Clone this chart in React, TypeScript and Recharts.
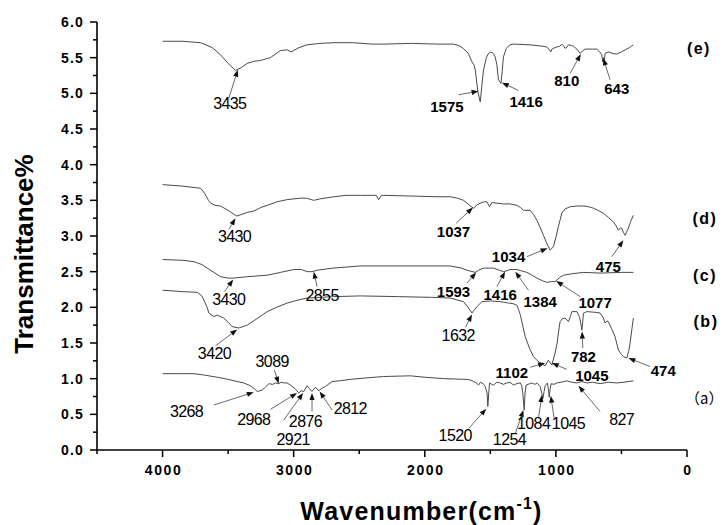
import React from 'react';
import { LineChart, Line, XAxis, YAxis, ReferenceLine, ReferenceDot } from 'recharts';

type Pt = [number, number];

// Spectrum (e)
const specE: Pt[] = [
  [4000, 5.73], [3850, 5.73], [3710, 5.71], [3620, 5.64], [3558, 5.54], [3500, 5.42], [3444, 5.32],
  [3400, 5.36], [3355, 5.42], [3300, 5.45], [3253, 5.46], [3200, 5.49], [3177, 5.5], [3140, 5.55],
  [3101, 5.6], [3050, 5.61], [3020, 5.58], [3000, 5.6], [2960, 5.64], [2898, 5.68], [2800, 5.7],
  [2697, 5.71], [2550, 5.71], [2400, 5.69], [2316, 5.69], [2100, 5.7], [1900, 5.69], [1783, 5.69],
  [1740, 5.67], [1707, 5.63], [1668, 5.56], [1640, 5.44], [1625, 5.4], [1615, 5.33], [1595, 5.02],
  [1577, 4.88], [1565, 5.1], [1552, 5.33], [1530, 5.5], [1514, 5.56], [1495, 5.58], [1478, 5.56],
  [1463, 5.51], [1450, 5.4], [1438, 5.19], [1419, 5.14], [1410, 5.3], [1400, 5.51], [1379, 5.63],
  [1350, 5.68], [1323, 5.69], [1200, 5.68], [1100, 5.66], [1069, 5.65], [1050, 5.61], [1039, 5.58],
  [1030, 5.62], [1019, 5.63], [993, 5.65], [970, 5.66], [955, 5.69], [940, 5.66], [930, 5.63],
  [915, 5.65], [904, 5.68], [880, 5.67], [866, 5.66], [840, 5.62], [815, 5.56], [800, 5.59],
  [777, 5.62], [720, 5.62], [688, 5.62], [665, 5.58], [650, 5.54], [643, 5.44], [638, 5.5],
  [632, 5.44], [625, 5.56], [600, 5.58], [570, 5.56], [536, 5.55], [500, 5.58], [472, 5.61],
  [440, 5.64], [409, 5.68],
];

// Spectrum (d)
const specD: Pt[] = [
  [4000, 3.72], [3850, 3.7], [3760, 3.68], [3710, 3.67], [3680, 3.6], [3650, 3.5], [3634, 3.46],
  [3600, 3.43], [3558, 3.42], [3500, 3.36], [3436, 3.28], [3400, 3.3], [3355, 3.33], [3304, 3.35],
  [3250, 3.4], [3200, 3.43], [3126, 3.48], [3050, 3.51], [2949, 3.53], [2900, 3.53], [2847, 3.5],
  [2800, 3.52], [2695, 3.55], [2600, 3.57], [2491, 3.57], [2400, 3.57], [2370, 3.57], [2352, 3.51],
  [2330, 3.57], [2314, 3.57], [2100, 3.56], [1900, 3.55], [1806, 3.55], [1750, 3.53], [1704, 3.5],
  [1670, 3.45], [1653, 3.42], [1628, 3.39], [1600, 3.44], [1577, 3.46], [1545, 3.48], [1526, 3.48],
  [1506, 3.41], [1488, 3.47], [1450, 3.46], [1400, 3.45], [1350, 3.45], [1298, 3.43], [1270, 3.4],
  [1247, 3.36], [1196, 3.36], [1170, 3.3], [1145, 3.22], [1120, 3.12], [1095, 3.01], [1070, 2.9],
  [1044, 2.8], [1019, 2.85], [1000, 2.98], [981, 3.13], [955, 3.32], [930, 3.38], [891, 3.41],
  [840, 3.42], [790, 3.42], [750, 3.41], [714, 3.39], [680, 3.36], [638, 3.32], [600, 3.26],
  [562, 3.2], [540, 3.14], [523, 3.08], [510, 3.11], [498, 3.11], [485, 3.05], [472, 3.01],
  [460, 3.06], [447, 3.11], [430, 3.2], [409, 3.29],
];

// Spectrum (c)
const specC: Pt[] = [
  [4000, 2.67], [3850, 2.66], [3761, 2.64], [3700, 2.6], [3660, 2.55], [3600, 2.48], [3558, 2.43],
  [3500, 2.41], [3457, 2.41], [3350, 2.43], [3202, 2.45], [3100, 2.49], [3000, 2.53], [2940, 2.53],
  [2898, 2.5], [2860, 2.5], [2821, 2.52], [2700, 2.55], [2491, 2.58], [2300, 2.58], [2000, 2.58],
  [1806, 2.58], [1720, 2.55], [1678, 2.52], [1615, 2.49], [1590, 2.52], [1552, 2.55], [1476, 2.55],
  [1430, 2.52], [1400, 2.5], [1380, 2.51], [1349, 2.53], [1298, 2.53], [1260, 2.51], [1221, 2.49],
  [1180, 2.45], [1145, 2.41], [1100, 2.37], [1069, 2.35], [1040, 2.36], [1006, 2.36], [970, 2.42],
  [942, 2.45], [880, 2.47], [790, 2.49], [663, 2.48], [500, 2.49], [409, 2.49],
];

// Spectrum (b)
const specB: Pt[] = [
  [4000, 2.24], [3850, 2.22], [3736, 2.21], [3700, 2.16], [3685, 2.1], [3660, 2.0], [3647, 1.92],
  [3609, 1.87], [3583, 1.89], [3533, 1.85], [3500, 1.79], [3469, 1.73], [3419, 1.71], [3355, 1.75],
  [3280, 1.84], [3202, 1.94], [3130, 2.0], [3050, 2.06], [2970, 2.1], [2898, 2.13], [2800, 2.14],
  [2695, 2.15], [2491, 2.16], [2200, 2.15], [1950, 2.14], [1806, 2.13], [1704, 2.08], [1666, 1.99],
  [1640, 1.92], [1620, 1.97], [1602, 2.01], [1564, 2.08], [1500, 2.09], [1425, 2.08], [1360, 2.06],
  [1323, 2.05], [1298, 2.03], [1285, 1.97], [1272, 1.9], [1250, 1.72], [1234, 1.59], [1200, 1.42],
  [1171, 1.31], [1140, 1.25], [1120, 1.22], [1082, 1.18], [1057, 1.26], [1031, 1.19], [1006, 1.36],
  [990, 1.5], [981, 1.64], [968, 1.8], [950, 1.84], [930, 1.85], [904, 1.8], [890, 1.87],
  [878, 1.94], [840, 1.94], [821, 1.87], [810, 1.78], [802, 1.68], [795, 1.8], [790, 1.92],
  [764, 1.94], [700, 1.93], [663, 1.92], [640, 1.86], [625, 1.78], [610, 1.81], [600, 1.8],
  [575, 1.7], [549, 1.59], [523, 1.4], [500, 1.34], [485, 1.31], [459, 1.29], [445, 1.38],
  [434, 1.5], [420, 1.7], [409, 1.85],
];

// Spectrum (a)
const specA: Pt[] = [
  [4000, 1.07], [3850, 1.07], [3761, 1.07], [3680, 1.05], [3583, 1.02], [3500, 0.99], [3431, 0.96],
  [3380, 0.94], [3330, 0.9], [3300, 0.86], [3278, 0.82], [3240, 0.84], [3215, 0.88], [3190, 0.93],
  [3160, 0.92], [3139, 0.94], [3114, 0.93], [3095, 0.95], [3076, 0.94], [3050, 0.94], [3025, 0.91],
  [2990, 0.86], [2961, 0.8], [2943, 0.83], [2923, 0.82], [2898, 0.9], [2880, 0.86], [2860, 0.82],
  [2834, 0.88], [2809, 0.83], [2780, 0.87], [2758, 0.89], [2707, 0.96], [2650, 0.97], [2568, 0.99],
  [2450, 1.01], [2314, 1.03], [2110, 1.04], [2000, 1.02], [1850, 1.0], [1678, 0.99], [1650, 0.98],
  [1628, 0.96], [1605, 0.94], [1590, 0.91], [1575, 0.95], [1564, 0.94], [1550, 0.92], [1539, 0.89],
  [1525, 0.8], [1519, 0.61], [1512, 0.8], [1506, 0.94], [1490, 0.92], [1476, 0.91], [1450, 0.95],
  [1425, 0.94], [1400, 0.92], [1374, 0.94], [1350, 0.95], [1323, 0.91], [1300, 0.93], [1272, 0.94],
  [1260, 0.9], [1252, 0.79], [1242, 0.56], [1235, 0.8], [1227, 0.91], [1200, 0.93], [1183, 0.94],
  [1160, 0.92], [1145, 0.94], [1120, 0.89], [1108, 0.8], [1099, 0.72], [1090, 0.82], [1082, 0.9],
  [1064, 0.94], [1057, 0.85], [1051, 0.74], [1044, 0.85], [1036, 0.93], [1015, 0.92], [993, 0.94],
  [960, 0.95], [917, 0.97], [880, 0.95], [840, 0.94], [800, 0.96], [764, 0.94], [720, 0.95],
  [663, 0.93], [600, 0.95], [536, 0.94], [480, 0.95], [409, 0.97],
];

// Peak labels [text, wavenumber, transmittance] (label centre)
const boldPeakLabels: [string, number, number][] = [
  ['1575', 1831, 4.82], ['1416', 1227, 4.88], ['810', 917, 5.18], ['643', 536, 5.07],
  ['1037', 1781, 3.06], ['1034', 1361, 2.71], ['475', 600, 2.57],
  ['1593', 1781, 2.22], ['1416', 1425, 2.18], ['1384', 1120, 2.08], ['1077', 701, 2.06],
  ['1102', 1336, 1.08], ['1045', 726, 1.05], ['782', 790, 1.31], ['474', 181, 1.12],
];
const plainPeakLabels: [string, number, number][] = [
  ['3435', 3487, 4.86], ['3430', 3451, 2.99], ['3430', 3495, 2.11], ['2855', 2783, 2.17],
  ['3420', 3604, 1.36], ['1632', 1745, 1.61],
  ['3089', 3164, 1.24], ['3268', 3817, 0.54], ['2968', 3304, 0.43], ['2921', 3004, 0.15],
  ['2876', 2910, 0.41], ['2812', 2568, 0.58], ['1520', 1768, 0.2], ['1254', 1354, 0.15],
  ['1084', 1170, 0.37], ['1045', 904, 0.37], ['827', 498, 0.43],
];
// Arrows [fromW, fromV, toW, toV]
const peakArrows: [number, number, number, number][] = [
  [3495, 4.93, 3426, 5.33], [1742, 4.98, 1590, 5.03], [1285, 5.04, 1412, 5.15], [891, 5.28, 810, 5.55], [587, 5.19, 638, 5.49],
  [3495, 3.09, 3444, 3.25], [1760, 3.18, 1633, 3.4], [1221, 2.71, 1064, 2.83], [574, 2.71, 485, 2.94],
  [3528, 2.22, 3461, 2.39], [2821, 2.29, 2847, 2.5], [1678, 2.34, 1608, 2.49], [1450, 2.29, 1387, 2.5], [1209, 2.24, 1310, 2.5], [815, 2.15, 998, 2.37],
  [3596, 1.46, 3431, 1.69], [1690, 1.72, 1640, 1.9], [1196, 1.16, 1082, 1.22], [917, 1.13, 1031, 1.22], [795, 1.43, 800, 1.66], [282, 1.17, 447, 1.29],
  [3147, 1.12, 3114, 0.93], [3609, 0.63, 3304, 0.81], [3177, 0.57, 2974, 0.8], [3076, 0.42, 2928, 0.8], [2860, 0.54, 2860, 0.8],
  [2707, 0.56, 2802, 0.82], [1666, 0.3, 1531, 0.58], [1310, 0.23, 1247, 0.56], [1133, 0.44, 1107, 0.77], [1013, 0.44, 1039, 0.76], [663, 0.54, 828, 0.9],
];
// Curve names [text, wavenumber, transmittance]
const curveNames: [string, number, number][] = [
  ['(e)', -91, 5.63], ['(d)', -137, 3.25], ['(c)', -137, 2.45], ['(b)', -145, 1.8],
];
const curveNameA: [string, number, number] = ['（a）', 15, 0.72];

const X_TICKS = [0, 500, 1000, 1500, 2000, 2500, 3000, 3500, 4000, 4500];
const X_LABELLED = [0, 1000, 2000, 3000, 4000];
const Y_TICKS = [0, 0.25, 0.5, 0.75, 1, 1.25, 1.5, 1.75, 2, 2.25, 2.5, 2.75, 3, 3.25, 3.5, 3.75, 4, 4.25, 4.5, 4.75, 5, 5.25, 5.5, 5.75, 6];

const FONT = '"Liberation Sans", Arial, Helvetica, sans-serif';
const LINE_COLOR = '#4a4a4a';

const rows = (pts: Pt[]) => pts.map(([w, v]) => ({ w, v }));
const series = [specE, specD, specC, specB, specA].map(rows);

const XTick = (props: any) => {
  const { x, y, payload } = props;
  const v = payload.value;
  const axisY = y - 11;
  const major = X_LABELLED.includes(v);
  return (
    <g>
      <line x1={x} x2={x} y1={axisY} y2={axisY + (major ? 7 : 4)} stroke="#000" strokeWidth={1.5} />
      {major && (
        <text x={x + 1} y={axisY + 25} textAnchor="middle" fontFamily={FONT} fontWeight="bold" fontSize={14} letterSpacing={1.6} fill="#000">
          {v}
        </text>
      )}
    </g>
  );
};

const YTick = (props: any) => {
  const { x, y, payload } = props;
  const v = payload.value;
  const axisX = x + 11;
  const major = Math.abs(v * 2 - Math.round(v * 2)) < 1e-6;
  return (
    <g>
      <line x1={axisX} x2={axisX - (major ? 7 : 4)} y1={y} y2={y} stroke="#000" strokeWidth={1.5} />
      {major && (
        <text x={axisX - 13} y={y} dy="0.36em" textAnchor="end" fontFamily={FONT} fontWeight="bold" fontSize={14} letterSpacing={1.2} fill="#000">
          {v.toFixed(1)}
        </text>
      )}
    </g>
  );
};

const ArrowShape = (props: any) => {
  const x1 = Number(props.x1), y1 = Number(props.y1), x2 = Number(props.x2), y2 = Number(props.y2);
  const dx = x2 - x1, dy = y2 - y1;
  const len = Math.hypot(dx, dy) || 1;
  const ux = dx / len, uy = dy / len;
  const hl = 7, hw = 2.6;
  const bx = x2 - ux * hl, by = y2 - uy * hl;
  const pts = `${x2},${y2} ${bx - uy * hw},${by + ux * hw} ${bx + uy * hw},${by - ux * hw}`;
  return (
    <g>
      <line x1={x1} y1={y1} x2={bx} y2={by} stroke="#6a6a6a" strokeWidth={1} />
      <polygon points={pts} fill="#111" />
    </g>
  );
};

const textShape = (text: string, opts: { weight: string; size: number; family: string; anchor?: string; spacing?: number }) =>
  (p: any) => (
    <text
      x={p.cx}
      y={p.cy}
      dy="0.36em"
      textAnchor={opts.anchor || 'middle'}
      fontFamily={opts.family}
      fontWeight={opts.weight}
      fontSize={opts.size}
      letterSpacing={opts.spacing ?? 0}
      fill="#000"
    >
      {text}
    </text>
  );

const XTitle = (props: any) => {
  const vb = props.viewBox || { x: 97, y: 450, width: 590, height: 30 };
  const cx = vb.x + vb.width * 0.55;
  const by = vb.y + 70;
  return (
    <text x={cx} y={by} textAnchor="middle" fontFamily={FONT} fontWeight="bold" fontSize={25} letterSpacing={1.2} fill="#000">
      <tspan>Wavenumber(cm</tspan>
      <tspan dy={-11} fontSize={16}>-1</tspan>
      <tspan dy={11}>)</tspan>
    </text>
  );
};

const YTitle = (props: any) => {
  const vb = props.viewBox || { x: 0, y: 22, width: 97, height: 428 };
  const cx = vb.x + 24;
  const cy = vb.y + vb.height / 2 + 18;
  return (
    <text
      x={cx}
      y={cy}
      transform={`rotate(-90, ${cx}, ${cy})`}
      textAnchor="middle"
      dominantBaseline="central"
      fontFamily={FONT}
      fontWeight="bold"
      fontSize={26}
      fill="#000"
    >
      Transmittance%
    </text>
  );
};

export default function App() {
  return (
    <div style={{ position: 'absolute', left: 0, top: 0, width: 725, height: 525, background: '#fff' }}>
      <LineChart width={725} height={525} margin={{ top: 22, right: 38, bottom: 45, left: 0 }}>
        <XAxis
          type="number"
          dataKey="w"
          domain={[0, 4500]}
          reversed
          allowDataOverflow
          ticks={X_TICKS}
          interval={0}
          height={30}
          tickSize={7}
          tickMargin={4}
          tickLine={false}
          tick={XTick}
          axisLine={{ stroke: '#000', strokeWidth: 1.6 }}
          label={XTitle}
        />
        <YAxis
          type="number"
          domain={[0, 6]}
          allowDataOverflow
          ticks={Y_TICKS}
          interval={0}
          width={97}
          tickSize={7}
          tickMargin={4}
          tickLine={false}
          tick={YTick}
          axisLine={{ stroke: '#000', strokeWidth: 1.6 }}
          label={YTitle}
        />
        {series.map((d, i) => (
          <Line
            key={i}
            data={d}
            dataKey="v"
            type="linear"
            stroke={LINE_COLOR}
            strokeWidth={1}
            dot={false}
            activeDot={false}
            isAnimationActive={false}
          />
        ))}
        {peakArrows.map(([fw, fv, tw, tv], i) => (
          <ReferenceLine
            key={`ar${i}`}
            segment={[{ x: fw, y: fv }, { x: tw, y: tv }]}
            ifOverflow="visible"
            shape={ArrowShape}
          />
        ))}
        {boldPeakLabels.map(([t, w, v], i) => (
          <ReferenceDot
            key={`bl${i}`}
            x={w}
            y={v}
            r={1}
            ifOverflow="visible"
            shape={textShape(t, { weight: 'bold', size: 15, family: FONT })}
          />
        ))}
        {plainPeakLabels.map(([t, w, v], i) => (
          <ReferenceDot
            key={`pl${i}`}
            x={w}
            y={v}
            r={1}
            ifOverflow="visible"
            shape={textShape(t, { weight: 'normal', size: 16, family: FONT, spacing: -0.6 })}
          />
        ))}
        {curveNames.map(([t, w, v], i) => (
          <ReferenceDot
            key={`cn${i}`}
            x={w}
            y={v}
            r={1}
            ifOverflow="visible"
            shape={textShape(t, { weight: 'bold', size: 16, family: FONT, spacing: 1.5 })}
          />
        ))}
        <ReferenceDot
          x={curveNameA[1]}
          y={curveNameA[2]}
          r={1}
          ifOverflow="visible"
          shape={textShape(curveNameA[0], { weight: 'normal', size: 15, family: '"Noto Sans CJK SC", sans-serif', anchor: 'start' })}
        />
      </LineChart>
    </div>
  );
}
